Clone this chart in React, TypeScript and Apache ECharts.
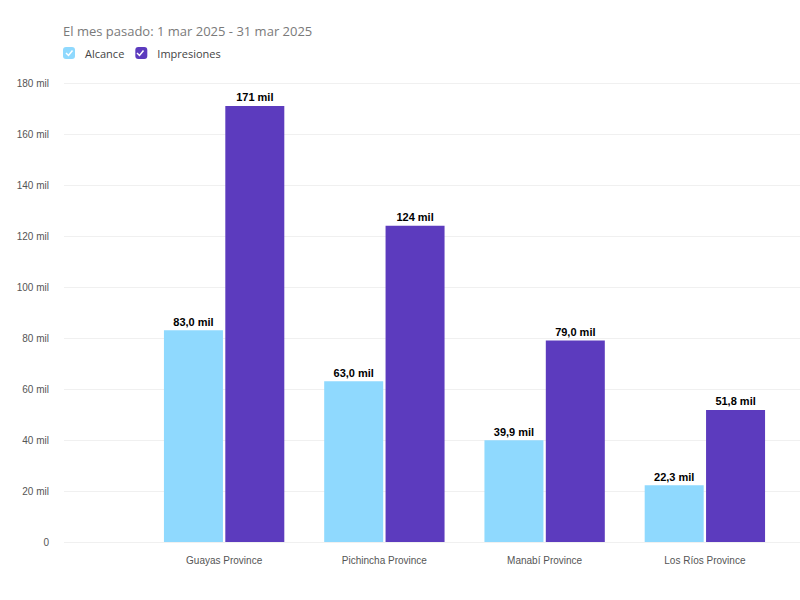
import React, { useEffect, useRef } from "react";
import * as echarts from "echarts";

const categories = ["Guayas Province", "Pichincha Province", "Manabí Province", "Los Ríos Province"];
const alcance = [83.0, 63.0, 39.9, 22.3];
const impresiones = [171, 124, 79.0, 51.8];
const seriesNames = ["Alcance", "Impresiones"];
const colors = ["#8FD9FE", "#5C3BBE"];
const titleText = "El mes pasado: 1 mar 2025 - 31 mar 2025";

const fmtLabel = (v: number) =>
  (v >= 100 ? v.toFixed(0) : v.toFixed(1).replace(".", ",")) + " mil";

export default function App() {
  const ref = useRef<HTMLDivElement>(null);
  useEffect(() => {
    if (!ref.current) return;
    const chart = echarts.init(ref.current, null, { renderer: "svg" });
    const labelStyle = {
      show: true,
      position: "top" as const,
      distance: 3,
      formatter: (p: any) => fmtLabel(p.value),
      color: "#000",
      fontWeight: "bold" as const,
      fontSize: 11,
      fontFamily: "Liberation Sans, Arial, sans-serif",
    };
    chart.setOption({
      animation: false,
      backgroundColor: "#fff",
      title: {
        text: titleText,
        left: 58,
        top: 19,
        textStyle: { fontSize: 13, fontWeight: "normal", color: "#7a7a7a", fontFamily: "Open Sans, sans-serif" },
      },
      legend: {
        left: 58,
        top: 42,
        itemWidth: 12,
        itemHeight: 12,
        itemGap: 11,
        icon: "roundRect",
        data: seriesNames,
        textStyle: { fontSize: 11, color: "#444", fontFamily: "Open Sans, sans-serif", padding: [0, 0, 0, 5] },
      },
      grid: [
        { left: 64, right: 0, top: 83, bottom: 58 },
        { left: 144, right: 15, top: 83, bottom: 58 },
      ],
      xAxis: [
        { type: "category", gridIndex: 0, data: [""], show: false },
        {
          type: "category",
          gridIndex: 1,
          data: categories,
          axisLine: { show: false },
          axisTick: { show: false },
          axisLabel: { color: "#555", fontSize: 10, margin: 13, fontFamily: "Liberation Sans, Arial, sans-serif" },
        },
      ],
      yAxis: [
        {
          type: "value",
          gridIndex: 0,
          min: 0,
          max: 180,
          interval: 20,
          axisLine: { show: false },
          axisTick: { show: false },
          splitLine: { lineStyle: { color: "#f0f0f0", width: 1 } },
          axisLabel: {
            color: "#555",
            fontSize: 10,
            margin: 15,
            fontFamily: "Liberation Sans, Arial, sans-serif",
            formatter: (v: number) => (v === 0 ? "0" : v + " mil"),
          },
        },
        { type: "value", gridIndex: 1, min: 0, max: 180, interval: 20, show: false },
      ],
      series: [
        {
          name: seriesNames[0],
          type: "bar",
          xAxisIndex: 1,
          yAxisIndex: 1,
          data: alcance,
          barWidth: 59,
          barGap: "4%",
          itemStyle: { color: colors[0] },
          label: labelStyle,
        },
        {
          name: seriesNames[1],
          type: "bar",
          xAxisIndex: 1,
          yAxisIndex: 1,
          data: impresiones,
          barWidth: 59,
          barGap: "4%",
          itemStyle: { color: colors[1] },
          label: labelStyle,
        },
      ],
      graphic: [
        {
          type: "polyline",
          shape: { points: [[66, 53], [68.5, 55.5], [72.5, 50.5]] },
          style: { stroke: "#fff", lineWidth: 1.5, fill: null },
          z: 100,
        },
        {
          type: "polyline",
          shape: { points: [[137, 53], [139.5, 55.5], [143.5, 50.5]] },
          style: { stroke: "#fff", lineWidth: 1.5, fill: null },
          z: 100,
        },
      ],
    });
    return () => chart.dispose();
  }, []);
  return <div ref={ref} style={{ width: 800, height: 600, position: "absolute", left: 0, top: 0 }} />;
}
